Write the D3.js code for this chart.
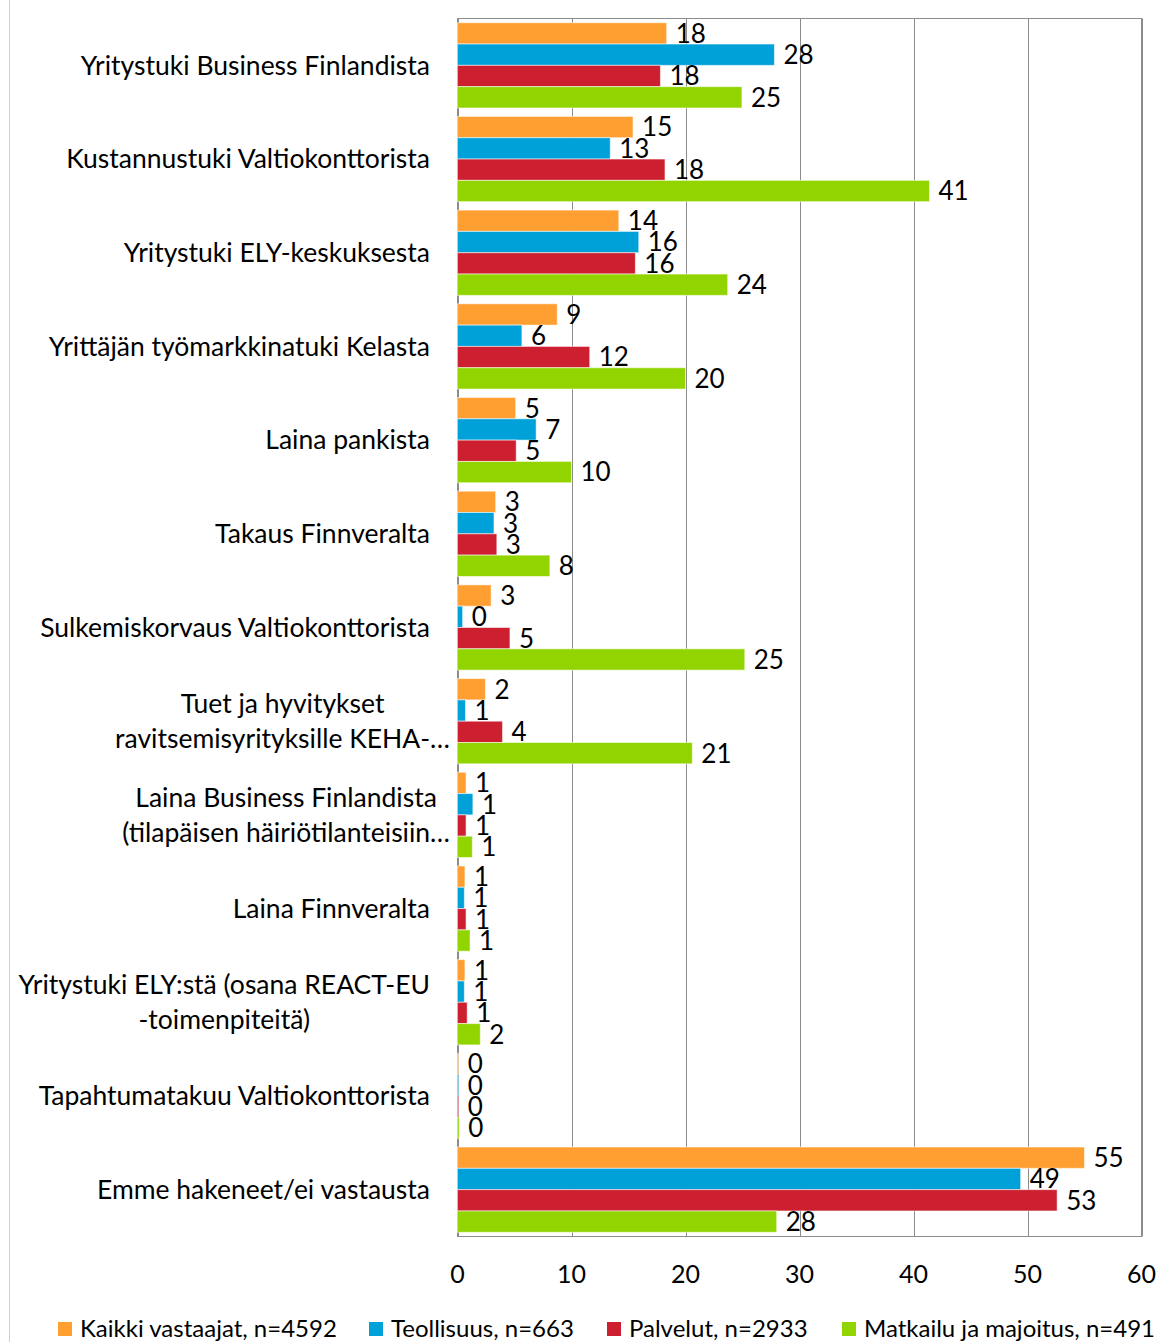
<!DOCTYPE html>
<html>
<head>
<meta charset="utf-8">
<title></title>
<style>
body { margin: 0; background: #fff; }
text { font-family: Lato, "Open Sans", sans-serif; fill: #000; }
.grid line { stroke: #8c8c8c; stroke-width: 1px; }
</style>
</head>
<body>
<script src="https://cdn.jsdelivr.net/npm/d3@7/dist/d3.min.js"></script>
<script>

// categories (multi-line labels as arrays)
var categories = [
  ["Yritystuki Business Finlandista"],
  ["Kustannustuki Valtiokonttorista"],
  ["Yritystuki ELY-keskuksesta"],
  ["Yrittäjän työmarkkinatuki Kelasta"],
  ["Laina pankista"],
  ["Takaus Finnveralta"],
  ["Sulkemiskorvaus Valtiokonttorista"],
  ["Tuet ja hyvitykset", "ravitsemisyrityksille KEHA-…"],
  ["Laina Business Finlandista", "(tilapäisen häiriötilanteisiin…"],
  ["Laina Finnveralta"],
  ["Yritystuki ELY:stä (osana REACT-EU", "-toimenpiteitä)"],
  ["Tapahtumatakuu Valtiokonttorista"],
  ["Emme hakeneet/ei vastausta"]
];

var seriesNames = ["Kaikki vastaajat, n=4592", "Teollisuus, n=663", "Palvelut, n=2933", "Matkailu ja majoitus, n=491"];
var seriesColors = ["#ff9f31", "#00a0d8", "#cc1f2f", "#92d400"];

var kaikki     = [18.35, 15.4, 14.15, 8.75, 5.1, 3.35, 2.95, 2.45, 0.75, 0.65, 0.65, 0.1, 55.0];
var teollisuus = [27.8, 13.4, 15.9, 5.65, 6.9, 3.2, 0.45, 0.7, 1.35, 0.6, 0.6, 0.1, 49.4];
var palvelut   = [17.8, 18.2, 15.6, 11.6, 5.15, 3.45, 4.6, 3.95, 0.75, 0.75, 0.85, 0.1, 52.6];
var matkailu   = [24.95, 41.4, 23.7, 20.0, 10.0, 8.1, 25.2, 20.6, 1.3, 1.1, 2.0, 0.15, 28.0];

var xTicks = [0, 10, 20, 30, 40, 50, 60];

var allSeries = [kaikki, teollisuus, palvelut, matkailu];

var width = 1173, height = 1342;
var plotLeft = 457.5, plotRight = 1141.5, plotTop = 18.5, plotBottom = 1236.5;

var svg = d3.select("body").append("svg")
    .attr("width", width)
    .attr("height", height);

// outer chart border on the left side
svg.append("line")
    .attr("x1", 9.5).attr("x2", 9.5)
    .attr("y1", 0).attr("y2", height)
    .attr("stroke", "#d0d0d0");

var x = d3.scaleLinear().domain([0, 60]).range([plotLeft, plotRight]);

var y = d3.scaleBand()
    .domain(d3.range(categories.length))
    .range([plotTop, plotBottom])
    .paddingInner(0.09)
    .paddingOuter(0.045);

var ySub = d3.scaleBand()
    .domain(d3.range(allSeries.length))
    .range([0, y.bandwidth()]);

// gridlines
svg.append("g")
    .attr("class", "grid")
    .selectAll("line")
    .data(xTicks)
    .enter().append("line")
    .attr("x1", function(d) { return Math.round(x(d)) + 0.5; })
    .attr("x2", function(d) { return Math.round(x(d)) + 0.5; })
    .attr("y1", plotTop)
    .attr("y2", plotBottom);

// plot frame
svg.append("rect")
    .attr("x", plotLeft).attr("y", plotTop)
    .attr("width", plotRight - plotLeft).attr("height", plotBottom - plotTop)
    .attr("fill", "none")
    .attr("stroke", "#8c8c8c");

// bars
var groups = svg.append("g")
    .selectAll("g")
    .data(categories)
    .enter().append("g")
    .attr("transform", function(d, i) { return "translate(0," + y(i) + ")"; });

groups.selectAll("rect")
    .data(function(d, i) { return allSeries.map(function(s, k) { return {k: k, v: s[i]}; }); })
    .enter().append("rect")
    .attr("x", x(0))
    .attr("y", function(d) { return ySub(d.k); })
    .attr("width", function(d) { return x(d.v) - x(0); })
    .attr("height", ySub.bandwidth())
    .attr("fill", function(d) { return seriesColors[d.k]; })
    .attr("stroke", "rgba(255,255,255,0.55)")
    .attr("stroke-width", 1);

groups.selectAll("text")
    .data(function(d, i) { return allSeries.map(function(s, k) { return {k: k, v: s[i]}; }); })
    .enter().append("text")
    .attr("x", function(d) { return x(d.v) + 9; })
    .attr("y", function(d) { return ySub(d.k) + ySub.bandwidth() / 2; })
    .attr("dy", "0.36em")
    .style("font-size", "26px")
    .text(function(d) { return d3.format(".0f")(d.v); });

// category labels
var lineH = 35;
var labels = svg.append("g")
    .selectAll("text")
    .data(categories)
    .enter().append("text")
    .style("font-size", "26.5px")
    .attr("text-anchor", "middle");

labels.each(function(lines, i) {
    var t = d3.select(this);
    var cy = y(i) + y.bandwidth() / 2;
    lines.forEach(function(line, j) {
        t.append("tspan")
            .attr("y", cy + (j - (lines.length - 1) / 2) * lineH)
            .attr("dy", "0.35em")
            .text(line);
    });
    var maxLen = 0;
    t.selectAll("tspan").each(function() {
        maxLen = Math.max(maxLen, this.getComputedTextLength());
    });
    var rightEdge = lines[lines.length - 1].slice(-1) == "…" ? 450 : 430;
    t.selectAll("tspan").attr("x", rightEdge - maxLen / 2);
});

// x axis tick labels
svg.append("g")
    .selectAll("text")
    .data(xTicks)
    .enter().append("text")
    .attr("x", function(d) { return x(d); })
    .attr("y", 1274)
    .attr("dy", "0.35em")
    .attr("text-anchor", "middle")
    .style("font-size", "25px")
    .text(function(d) { return d; });

// legend
var legendX = [58, 369, 607, 842];
var legend = svg.append("g")
    .selectAll("g")
    .data(seriesNames)
    .enter().append("g")
    .attr("transform", function(d, i) { return "translate(" + legendX[i] + ",1322)"; });

legend.append("rect")
    .attr("width", 14).attr("height", 14)
    .attr("fill", function(d, i) { return seriesColors[i]; });

legend.append("text")
    .attr("x", 22)
    .attr("y", 7)
    .attr("dy", "0.35em")
    .style("font-size", "24px")
    .text(function(d) { return d; });

</script>
</body>
</html>
